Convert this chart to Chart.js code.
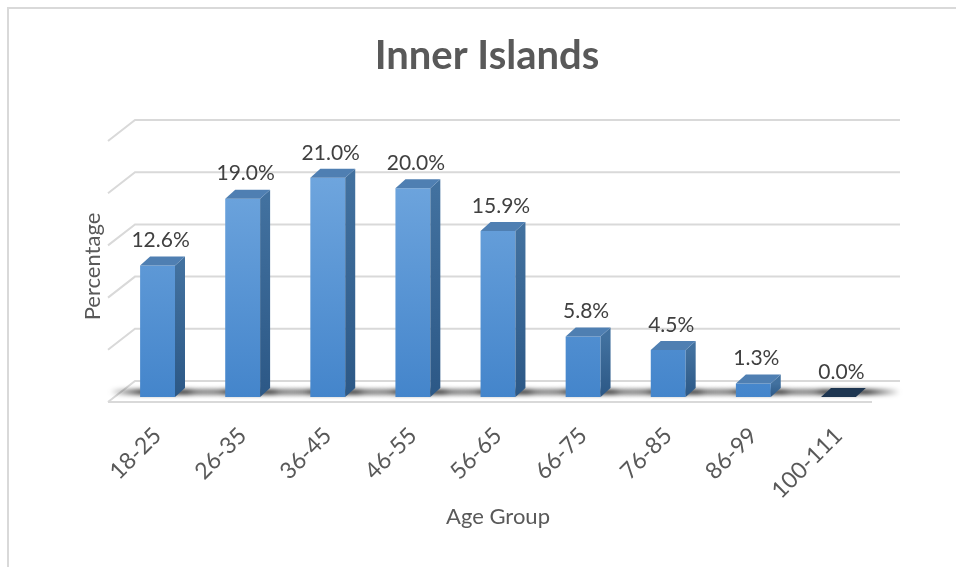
<!DOCTYPE html>
<html>
<head>
<meta charset="utf-8">
<script src="https://cdn.jsdelivr.net/npm/chart.js@4.4.1/dist/chart.umd.min.js"></script>
<style>
  html, body { margin: 0; padding: 0; background: #fff; overflow: hidden; }
  #marco { position: absolute; left: 7px; top: 7px; width: 1200px; height: 800px;
           border-left: 2px solid #d9d9d9; border-top: 2px solid #d9d9d9; }
  #caja { position: absolute; left: 0; top: 0; width: 956px; height: 567px; }
</style>
</head>
<body>
<div id="marco"></div>
<div id="caja"><canvas id="grafico"></canvas></div>
<script>
// Datos del grafico
const grupos = ['18-25', '26-35', '36-45', '46-55', '56-65', '66-75', '76-85', '86-99', '100-111'];
const porcentajes = [12.6, 19.0, 21.0, 20.0, 15.9, 5.8, 4.5, 1.3, 0.0];
const marcasY = [0, 5, 10, 15, 20, 25];

const FUENTE = 'Lato, "Open Sans", sans-serif';
// profundidad del "3D"
const FONDO_X = 27, FONDO_Y = 21, FRENTE = 5;
const CARA_X = 10, CARA_Y = 9;

// pared del fondo, piso y sombras
const paredPlugin = {
	id: 'pared',
	beforeDatasetsDraw(chart) {
		const ctx = chart.ctx;
		const area = chart.chartArea;
		const ys = chart.scales.y;
		const izq = area.left - 7;
		const der = area.right + 19;
		ctx.save();
		ctx.strokeStyle = '#d9d9d9';
		ctx.lineWidth = 2;
		marcasY.forEach(v => {
			const yb = ys.getPixelForValue(v) + FRENTE - FONDO_Y;
			ctx.beginPath();
			ctx.moveTo(izq, yb + FONDO_Y);
			ctx.lineTo(izq + FONDO_X, yb);
			ctx.lineTo(der, yb);
			ctx.stroke();
		});
		// borde delantero del piso
		const yf = ys.getPixelForValue(0) + FRENTE;
		ctx.beginPath();
		ctx.moveTo(izq, yf);
		ctx.lineTo(area.right - 9, yf);
		ctx.stroke();

		// sombras en el piso
		const meta = chart.getDatasetMeta(0);
		ctx.filter = 'blur(2px)';
		meta.data.forEach(bar => {
			const w = bar.width;
			const x0 = bar.x - w / 2 - 30;
			const x1 = bar.x + w / 2 + CARA_X + 34;
			const g = ctx.createLinearGradient(x0, 0, x1, 0);
			g.addColorStop(0, 'rgba(0,0,0,0)');
			g.addColorStop(0.3, 'rgba(0,0,0,0.7)');
			g.addColorStop(0.7, 'rgba(0,0,0,0.7)');
			g.addColorStop(1, 'rgba(0,0,0,0)');
			ctx.fillStyle = g;
			ctx.fillRect(x0, bar.base - 8, x1 - x0, 6);
		});
		ctx.restore();
	},
	afterDatasetsDraw(chart) {
		const ctx = chart.ctx;
		const meta = chart.getDatasetMeta(0);
		ctx.save();
		meta.data.forEach((bar, i) => {
			const w = bar.width;
			const l = bar.x - w / 2, r = bar.x + w / 2;
			const top = Math.min(bar.y, bar.base);
			const base = bar.base;
			// cara lateral
			if (base - top > 0.5) {
				const gs = ctx.createLinearGradient(0, top, 0, base);
				gs.addColorStop(0, '#42719f');
				gs.addColorStop(1, '#2c5886');
				ctx.fillStyle = gs;
				ctx.beginPath();
				ctx.moveTo(r, top);
				ctx.lineTo(r + CARA_X, top - CARA_Y);
				ctx.lineTo(r + CARA_X, base - CARA_Y);
				ctx.lineTo(r, base);
				ctx.closePath();
				ctx.fill();
			}
			// cara superior
			ctx.fillStyle = porcentajes[i] > 0 ? '#4f7fb2' : '#1d3550';
			ctx.beginPath();
			ctx.moveTo(l, top);
			ctx.lineTo(l + CARA_X, top - CARA_Y);
			ctx.lineTo(r + CARA_X, top - CARA_Y);
			ctx.lineTo(r, top);
			ctx.closePath();
			ctx.fill();
			// etiqueta
			ctx.fillStyle = '#404040';
			ctx.font = '21px ' + FUENTE;
			ctx.textAlign = 'center';
			ctx.textBaseline = 'middle';
			ctx.fillText(porcentajes[i].toFixed(1) + '%', bar.x + 3, top - 25);
		});
		ctx.restore();
	}
};

new Chart(document.getElementById('grafico'), {
	type: 'bar',
	data: {
		labels: grupos,
		datasets: [{
			label: 'Percentage',
			data: porcentajes,
			backgroundColor: (c) => {
				const area = c.chart.chartArea;
				if (!area) return '#5b9bd5';
				const g = c.chart.ctx.createLinearGradient(0, area.top, 0, area.bottom);
				g.addColorStop(0, '#76abe1');
				g.addColorStop(1, '#4485cb');
				return g;
			},
			borderWidth: 0,
			categoryPercentage: 1,
			barPercentage: 0.41
		}]
	},
	options: {
		responsive: true,
		maintainAspectRatio: false,
		animation: false,
		layout: { padding: { left: 18, top: 0, right: 0, bottom: 0 } },
		plugins: {
			legend: { display: false },
			tooltip: { enabled: false },
			title: {
				display: true,
				text: 'Inner Islands',
				color: '#595959',
				font: { family: FUENTE, size: 40, weight: 'bold' },
				padding: { top: 32, bottom: 56 }
			}
		},
		scales: {
			x: {
				grid: { display: false },
				border: { display: false },
				ticks: {
					color: '#595959',
					font: { family: FUENTE, size: 23 },
					minRotation: 45,
					maxRotation: 45,
					padding: 17
				},
				title: {
					display: true,
					text: 'Age Group',
					color: '#595959',
					font: { family: FUENTE, size: 22 },
					padding: { top: 0, bottom: 37 }
				},
				afterFit: (s) => { s.height = 170; }
			},
			y: {
				min: 0,
				max: 25,
				grid: { display: false },
				border: { display: false },
				ticks: { display: false, stepSize: 5 },
				title: {
					display: true,
					text: 'Percentage',
					color: '#595959',
					font: { family: FUENTE, size: 22 },
					padding: { top: 62, bottom: 0 }
				},
				afterFit: (s) => { s.width = 97; }
			},
			y2: {
				type: 'linear',
				position: 'right',
				grid: { display: false },
				border: { display: false },
				ticks: { display: false },
				afterFit: (s) => { s.width = 75; }
			}
		}
	},
	plugins: [paredPlugin]
});
</script>
</body>
</html>
